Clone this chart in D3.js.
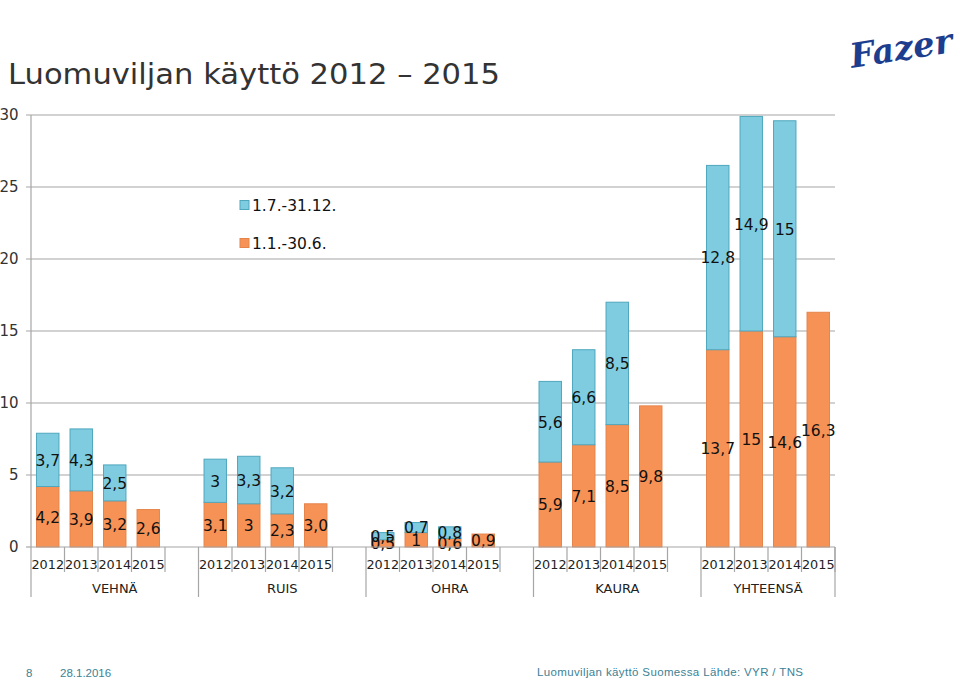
<!DOCTYPE html>
<html><head><meta charset="utf-8">
<script src="https://cdn.jsdelivr.net/npm/d3@7"></script>
<style>
body{margin:0;background:#fff;}
svg{display:block;}
</style></head>
<body>
<svg id="c" width="960" height="680"></svg>
<script>
const groups = ["VEHNÄ","RUIS","OHRA","KAURA","YHTEENSÄ"];
const years = ["2012","2013","2014","2015"];
const seriesNames = ["1.7.-31.12.","1.1.-30.6."];
// first half (1.1.-30.6.) values per group, years 2012..2015
const firstHalf = [
  [4.2,3.9,3.2,2.6],
  [3.1,3,2.3,3.0],
  [0.5,1,0.6,0.9],
  [5.9,7.1,8.5,9.8],
  [13.7,15,14.6,16.3]
];
const firstHalfLabels = [
  ["4,2","3,9","3,2","2,6"],
  ["3,1","3","2,3","3,0"],
  ["0,5","1","0,6","0,9"],
  ["5,9","7,1","8,5","9,8"],
  ["13,7","15","14,6","16,3"]
];
// second half (1.7.-31.12.) values; null = no data
const secondHalf = [
  [3.7,4.3,2.5,null],
  [3,3.3,3.2,null],
  [0.5,0.7,0.8,null],
  [5.6,6.6,8.5,null],
  [12.8,14.9,15,null]
];
const secondHalfLabels = [
  ["3,7","4,3","2,5",null],
  ["3","3,3","3,2",null],
  ["0,5","0,7","0,8",null],
  ["5,6","6,6","8,5",null],
  ["12,8","14,9","15",null]
];
const yTicks = [0,5,10,15,20,25,30];

const svg = d3.select("#c");
const L=31, R=835, T=115, B=547;
const font = "'DejaVu Sans', Verdana, sans-serif";
const colOrange="#F79256", strokeOrange="#E5844A";
const colBlue="#7FCCE0", strokeBlue="#4FA7BE";

// slots
const slots=[];
groups.forEach((g,gi)=>{
  years.forEach(y=>slots.push(g+"|"+y));
  if(gi<groups.length-1) slots.push(g+"|gap");
});
const x = d3.scaleBand().domain(slots).range([L,R]).paddingInner(0.33).paddingOuter(0.165);
const step = x.step();
const y = d3.scaleLinear().domain([0,30]).range([B,T]);

// title
svg.append("text").attr("x",8).attr("y",84).attr("font-family",font).attr("font-size",29)
  .attr("fill","#333").attr("textLength",492).attr("lengthAdjust","spacingAndGlyphs")
  .text("Luomuviljan käyttö 2012 – 2015");

// logo
svg.append("g").attr("transform","translate(852,68) rotate(-9)")
  .append("text")
  .attr("font-family","'DejaVu Serif', serif").attr("font-style","italic").attr("font-weight","bold")
  .attr("font-size",34).attr("fill","#1D3E8E").text("Fazer");

// gridlines
svg.append("g").selectAll("line").data(yTicks.filter(t=>t>0)).join("line")
  .attr("x1",L-5).attr("x2",R).attr("y1",d=>y(d)).attr("y2",d=>y(d))
  .attr("stroke","#A6A6A6").attr("stroke-width",1.2);
// y tick labels
svg.append("g").selectAll("text").data(yTicks).join("text")
  .attr("x",18.5).attr("y",d=>y(d)).attr("dy","0.36em").attr("text-anchor","end")
  .attr("font-family",font).attr("font-size",15).attr("fill","#333").text(d=>d);
svg.append("line").attr("x1",L-5).attr("x2",L).attr("y1",y(0)).attr("y2",y(0)).attr("stroke","#A6A6A6").attr("stroke-width",1.2);

// bars
const bars = svg.append("g");
groups.forEach((g,gi)=>{
  years.forEach((yr,yi)=>{
    const xs = x(g+"|"+yr), w = x.bandwidth();
    const v1 = firstHalf[gi][yi];
    bars.append("rect").attr("x",xs).attr("width",w).attr("y",y(v1)).attr("height",y(0)-y(v1))
      .attr("fill",colOrange).attr("stroke",strokeOrange).attr("stroke-width",1);
    const v2 = secondHalf[gi][yi];
    if(v2!=null){
      bars.append("rect").attr("x",xs).attr("width",w).attr("y",y(v1+v2)).attr("height",y(v1)-y(v1+v2))
        .attr("fill",colBlue).attr("stroke",strokeBlue).attr("stroke-width",1);
    }
  });
});
// labels
const labs = svg.append("g").attr("font-family",font).attr("font-size",15.5).attr("fill","#111").attr("text-anchor","middle");
groups.forEach((g,gi)=>{
  years.forEach((yr,yi)=>{
    const cx = x(g+"|"+yr)+x.bandwidth()/2;
    const v1 = firstHalf[gi][yi];
    labs.append("text").attr("x",cx).attr("y",(y(0)+y(v1))/2).attr("dy","0.38em").text(firstHalfLabels[gi][yi]);
    const v2 = secondHalf[gi][yi];
    if(v2!=null){
      labs.append("text").attr("x",cx).attr("y",(y(v1)+y(v1+v2))/2).attr("dy","0.38em").text(secondHalfLabels[gi][yi]);
    }
  });
});

// axes
const ax = svg.append("g").attr("stroke","#A6A6A6").attr("stroke-width",1.2);
ax.append("line").attr("x1",L).attr("x2",L).attr("y1",T).attr("y2",597);
ax.append("line").attr("x1",L).attr("x2",R).attr("y1",B).attr("y2",B);
slots.forEach((s,i)=>{
  const xe = x(s) + x.bandwidth() + step*0.33/2; // slot end
  const isGroupEnd = s.endsWith("|gap");
  ax.append("line").attr("x1",xe).attr("x2",xe).attr("y1",B).attr("y2",isGroupEnd?597:572);
});
ax.append("line").attr("x1",R).attr("x2",R).attr("y1",B).attr("y2",597);

// year labels
const yl = svg.append("g").attr("font-family",font).attr("font-size",12.8).attr("fill","#222").attr("text-anchor","middle");
groups.forEach(g=>{
  years.forEach(yr=>{
    yl.append("text").attr("x",x(g+"|"+yr)+x.bandwidth()/2).attr("y",569).text(yr);
  });
  const first = x(g+"|2012") - step*0.165;
  yl.append("text").attr("x",first+step*2.5 - (g==="YHTEENSÄ"?step*0.5:0)).attr("y",593).attr("font-size",13).text(g);
});

// legend
const lg = svg.append("g").attr("font-family",font).attr("font-size",15.5).attr("fill","#111");
seriesNames.forEach((n,i)=>{
  const yy = 205 + i*38;
  lg.append("rect").attr("x",240).attr("y",yy-4.5).attr("width",9).attr("height",9)
    .attr("fill",i===0?colBlue:colOrange).attr("stroke",i===0?strokeBlue:strokeOrange);
  lg.append("text").attr("x",252).attr("y",yy).attr("dy","0.36em").text(n);
});

// footer
const ft = svg.append("g").attr("font-family","'Liberation Sans', Arial, sans-serif").attr("font-size",11.5).attr("fill","#3C8296");
ft.append("text").attr("x",26).attr("y",677).text("8");
ft.append("text").attr("x",60).attr("y",677).text("28.1.2016");
ft.append("text").attr("x",537).attr("y",676).attr("textLength",266).text("Luomuviljan käyttö Suomessa Lähde: VYR / TNS");
</script>
</body></html>
